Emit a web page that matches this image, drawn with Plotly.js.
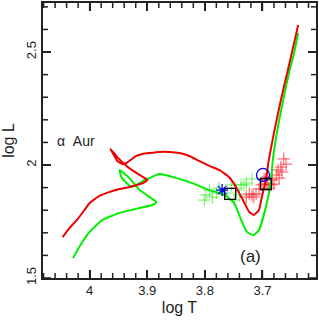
<!DOCTYPE html>
<html>
<head>
<meta charset="utf-8">
<script src="https://cdn.plot.ly/plotly-3.0.1.min.js"></script>
<style>html,body{margin:0;padding:0;background:#fff;}#plot{width:319px;height:327px;}</style>
</head>
<body>
<div id="plot"></div>
<script>
// Red evolutionary track
const redTrackT = [4.047,4.035,4.022,4.009,4.000,3.983,3.965,3.948,3.931,3.908,3.900,3.919,3.936,3.952,3.964,3.958,3.952,3.943,3.936,3.929,3.919,3.908,3.896,3.879,3.862,3.844,3.827,3.810,3.792,3.775,3.758,3.746,3.732,3.723,3.715,3.706,3.701,3.694,3.689,3.680,3.668,3.657,3.649,3.638];
const redTrackL = [1.681,1.721,1.757,1.801,1.832,1.863,1.881,1.894,1.903,1.920,1.934,1.965,1.996,2.035,2.071,2.044,2.018,2.004,2.009,2.022,2.040,2.049,2.053,2.058,2.058,2.053,2.040,2.018,1.996,1.978,1.947,1.903,1.836,1.792,1.779,1.801,1.858,1.934,2.022,2.142,2.288,2.407,2.496,2.619];
// Green evolutionary track
const greenTrackT = [4.029,4.017,4.000,3.978,3.948,3.913,3.891,3.884,3.896,3.913,3.931,3.948,3.945,3.936,3.927,3.919,3.908,3.896,3.879,3.849,3.822,3.792,3.775,3.763,3.749,3.737,3.727,3.716,3.706,3.694,3.685,3.682,3.675,3.664,3.654,3.645,3.638];
const greenTrackL = [1.588,1.642,1.704,1.757,1.788,1.810,1.823,1.836,1.858,1.889,1.942,1.978,1.947,1.920,1.903,1.912,1.929,1.942,1.960,1.942,1.920,1.889,1.876,1.863,1.832,1.757,1.704,1.690,1.712,1.814,1.934,2.022,2.142,2.288,2.407,2.496,2.584];
// Red observed points
const redObsT = [3.663,3.659,3.668,3.673,3.666,3.676,3.671,3.683,3.685,3.680,3.694,3.701,3.692,3.706,3.711,3.718,3.723,3.728,3.715,3.697,3.692,3.689];
const redObsL = [2.027,2.004,1.991,1.978,1.969,1.956,1.942,1.934,1.912,1.916,1.934,1.912,1.916,1.894,1.872,1.867,1.872,1.858,1.858,1.938,1.947,1.898];
// Green observed points
const greenObsT = [3.792,3.798,3.787,3.775,3.754,3.746,3.737,3.728,3.749,3.740,3.761,3.780,3.801,3.718,3.732];
const greenObsL = [1.889,1.867,1.858,1.898,1.912,1.898,1.912,1.920,1.845,1.867,1.876,1.876,1.845,1.938,1.912];
// Special markers
const starT = [3.770], starL = [1.889];
const squareT = [3.756, 3.694], squareL = [1.872, 1.916];
const circleT = [3.699], circleL = [1.956];
// Tick positions
const xMajorTicks = [4.0, 3.9, 3.8, 3.7];
const xTickText = ['4', '3.9', '3.8', '3.7'];
const yMajorTicks = [1.5, 2.0, 2.5];
const yTickText = ['1.5', '2', '2.5'];

const xRange = [4.081, 3.607];
const yRange = [1.5, 2.717];

const traces = [
  {x: greenObsT, y: greenObsL, mode: 'markers', type: 'scatter',
   marker: {symbol: 'cross-thin-open', size: 9, color: 'rgba(60,235,40,0.75)', line: {color: 'rgba(60,235,40,0.75)', width: 1}}},
  {x: redObsT, y: redObsL, mode: 'markers', type: 'scatter',
   marker: {symbol: 'cross-thin-open', size: 9, color: 'rgba(255,30,40,0.75)', line: {color: 'rgba(255,30,40,0.75)', width: 1}}},
  {x: greenTrackT, y: greenTrackL, mode: 'lines', type: 'scatter',
   line: {color: '#00ee00', width: 2, shape: 'spline', smoothing: 0.4}},
  {x: redTrackT, y: redTrackL, mode: 'lines', type: 'scatter',
   line: {color: '#ee0000', width: 2, shape: 'spline', smoothing: 0.4}},
  {x: squareT, y: squareL, mode: 'markers', type: 'scatter',
   marker: {symbol: 'square-open', size: 11, color: '#000', line: {color: '#000', width: 1.3}}},
  {x: circleT, y: circleL, mode: 'markers', type: 'scatter',
   marker: {symbol: 'circle-open', size: 13, color: '#0000ee', line: {color: '#0000ee', width: 1.3}}},
  {x: starT, y: starL, mode: 'markers', type: 'scatter',
   marker: {symbol: 'asterisk-open', size: 10, color: '#0000ee', line: {color: '#0000ee', width: 1.3}}}
];

// Tick marks drawn as shapes on all four sides
const tickColor = '#222';
const tickW = 1.5;
const shapes = [];
function xTick(v, len) {
  shapes.push({type: 'line', layer: 'above', xref: 'x', yref: 'paper', ysizemode: 'pixel', yanchor: 0, x0: v, x1: v, y0: 0, y1: len, line: {color: tickColor, width: tickW}});
  shapes.push({type: 'line', layer: 'above', xref: 'x', yref: 'paper', ysizemode: 'pixel', yanchor: 1, x0: v, x1: v, y0: 0, y1: -len, line: {color: tickColor, width: tickW}});
}
function yTick(v, len) {
  shapes.push({type: 'line', layer: 'above', xref: 'paper', yref: 'y', xsizemode: 'pixel', xanchor: 0, y0: v, y1: v, x0: 0, x1: len, line: {color: tickColor, width: tickW}});
  shapes.push({type: 'line', layer: 'above', xref: 'paper', yref: 'y', xsizemode: 'pixel', xanchor: 1, y0: v, y1: v, x0: 0, x1: -len, line: {color: tickColor, width: tickW}});
}
for (let i = 0; i <= 23; i++) {
  const v = Math.round((4.08 - i * 0.02) * 1000) / 1000;
  const isMajor = xMajorTicks.some(m => Math.abs(m - v) < 1e-6);
  xTick(v, isMajor ? 8 : 5);
}
for (let i = 0; i <= 12; i++) {
  const v = Math.round((1.5 + i * 0.1) * 1000) / 1000;
  const isMajor = yMajorTicks.some(m => Math.abs(m - v) < 1e-6);
  yTick(v, isMajor ? 8 : 5);
}

const fontFam = 'Liberation Sans, Arial, sans-serif';

const layout = {
  width: 319, height: 327,
  margin: {l: 43, r: 3, t: 3, b: 49},
  paper_bgcolor: '#fff', plot_bgcolor: '#fff',
  showlegend: false,
  shapes: shapes,
  xaxis: {
    range: xRange, tickmode: 'array', tickvals: xMajorTicks, ticktext: xTickText,
    showgrid: false, zeroline: false, showline: true, linecolor: '#222', linewidth: 1.5, mirror: 'allticks',
    ticks: 'inside', ticklen: 8, tickwidth: 1.5, tickcolor: '#222',
    tickfont: {family: fontFam, size: 13, color: '#222'},
    title: {text: 'log T', font: {family: fontFam, size: 16, color: '#222'}, standoff: 4}
  },
  yaxis: {
    range: yRange, tickmode: 'array', tickvals: yMajorTicks, ticktext: yTickText, tickangle: -90,
    showgrid: false, zeroline: false, showline: true, linecolor: '#222', linewidth: 1.5, mirror: 'allticks',
    ticks: 'inside', ticklen: 8, tickwidth: 1.5, tickcolor: '#222',
    tickfont: {family: fontFam, size: 13, color: '#222'},
    title: {text: 'log L', font: {family: fontFam, size: 16, color: '#222'}, standoff: 6}
  },
  annotations: [
    {x: 4.061, y: 2.106, xref: 'x', yref: 'y', text: 'α  Aur', showarrow: false, xanchor: 'left', yanchor: 'middle',
     font: {family: fontFam, size: 14, color: '#222'}},
    {x: 3.720, y: 1.593, xref: 'x', yref: 'y', text: '(a)', showarrow: false, xanchor: 'center', yanchor: 'middle',
     font: {family: fontFam, size: 17, color: '#222'}}
  ]
};

Plotly.newPlot('plot', traces, layout, {displayModeBar: false});
</script>
</body>
</html>
